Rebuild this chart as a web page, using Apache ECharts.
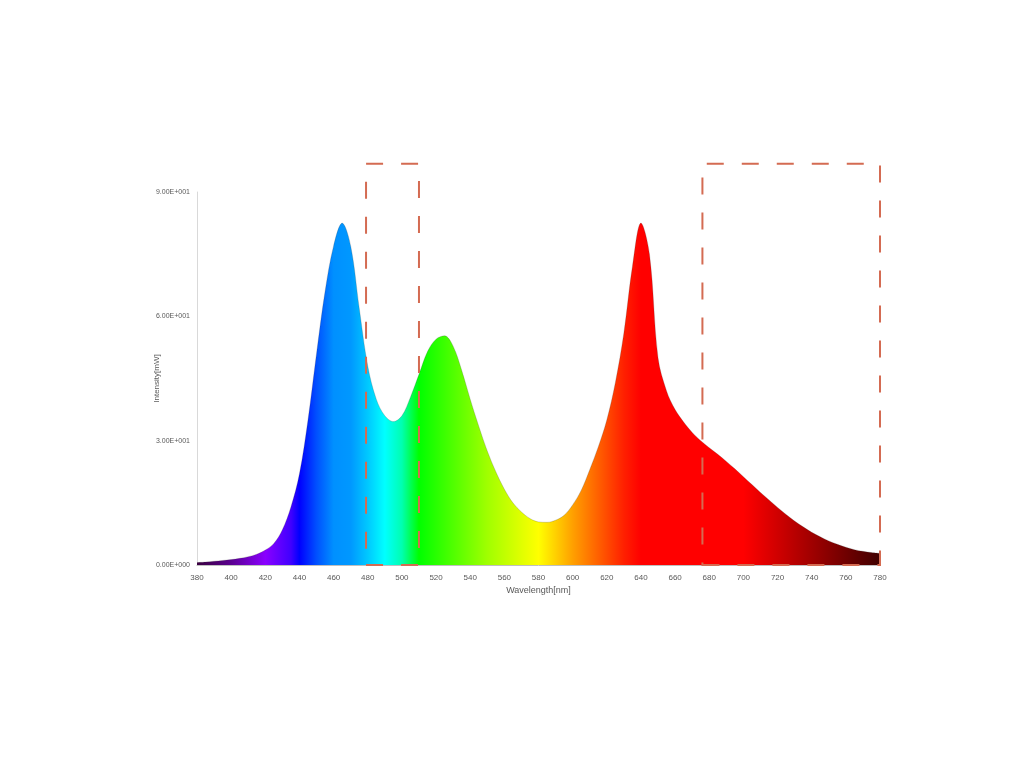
<!DOCTYPE html>
<html>
<head>
<meta charset="utf-8">
<script src="https://cdn.jsdelivr.net/npm/echarts@6/dist/echarts.min.js"></script>
<style>
html,body{margin:0;padding:0;background:#fff;}
#chart{width:1024px;height:768px;}
</style>
</head>
<body>
<div id="chart"></div>
<script>
var wavelengths = [380,385,390,395,400,405,410,415,420,425,430,435,440,445,450,455,460,465,470,475,480,485,490,495,500,505,510,515,520,525,530,535,540,545,550,555,560,565,570,575,580,585,590,595,600,605,610,615,620,625,630,635,640,645,650,655,660,665,670,675,680,685,690,695,700,705,710,715,720,725,730,735,740,745,750,755,760,765,770,775,780];
var intensity = [0.6,0.7,0.9,1.1,1.3,1.6,2.0,2.6,3.6,5.2,8.5,14,22,35,51,66,77,82.5,77,62,48,40,36,34.6,36,40.5,46,51.5,54.5,55.3,52.8,47,40,33.5,27.5,22.5,18.3,15,12.8,11.2,10.4,10.3,10.8,12,14.5,18,23,28.5,35,44,56,72,82.5,75,50,42,37.5,34.5,32,30,28.3,26.7,25.0,23.2,21.3,19.4,17.5,15.7,13.9,12.2,10.6,9.2,7.9,6.8,5.8,5.0,4.3,3.7,3.3,3.0,2.8];
var yTickLabels = ['0.00E+000','3.00E+001','6.00E+001','9.00E+001'];
var boxA = [479, 510];
var boxB = [676, 780];
var boxTop = 96.8;

var xMin = 380, xMax = 780, yMax = 90, yMaxOuter = 100;
var plotTop = 192, plotBottom = 203, plotH = 768 - plotTop - plotBottom;
var outerTop = plotTop - plotH * (yMaxOuter - yMax) / yMax;

var stopsNm = [380,400,420,435,440,450,460,470,480,490,500,510,530,550,570,580,590,600,615,630,640,700,720,740,760,780];
var stopsColor = ['#3a0040','#5a0090','#8a00ff','#4000ff','#0000ff','#0050ff','#0090ff','#0098ff','#00c8ff','#00ffff','#00ffb0','#00ff00','#50ff00','#a0ff00','#e0ff00','#ffff00','#ffd000','#ffa000','#ff6000','#ff2000','#ff0000','#ff0000','#d00000','#a00000','#700000','#400000'];
var colorStops = stopsNm.map(function(n,i){return {offset:(n-xMin)/(xMax-xMin), color:stopsColor[i]};});

var chart = echarts.init(document.getElementById('chart'));
var font = 'Liberation Sans';
chart.setOption({
  backgroundColor:'#fff',
  animation:false,
  grid:[
    {left:197,right:144,top:plotTop,bottom:plotBottom},
    {left:197,right:144,top:outerTop,bottom:plotBottom}
  ],
  xAxis:[{
    type:'value',min:xMin,max:xMax,interval:20,gridIndex:0,
    name:'Wavelength[nm]',nameLocation:'middle',nameGap:21,nameMoveOverlap:false,
    nameTextStyle:{color:'#595959',fontSize:9,fontFamily:font},
    axisLine:{show:true,lineStyle:{color:'#bfbfbf',width:1}},
    axisTick:{show:false},
    splitLine:{show:false},
    axisLabel:{color:'#595959',fontSize:8,fontFamily:font,margin:9}
  },{
    type:'value',min:xMin,max:xMax,gridIndex:1,show:false
  }],
  yAxis:[{
    type:'value',min:0,max:yMax,interval:30,gridIndex:0,
    name:'Intensity[mW]',nameLocation:'middle',nameGap:36,nameMoveOverlap:false,
    nameTextStyle:{color:'#595959',fontSize:8,fontFamily:font},
    axisLine:{show:true,lineStyle:{color:'#d9d9d9',width:1}},
    axisTick:{show:false},
    splitLine:{show:false},
    axisLabel:{color:'#595959',fontSize:7,fontFamily:font,margin:7,
      formatter:function(v){return yTickLabels[Math.round(v/30)];}}
  },{
    type:'value',min:0,max:yMaxOuter,gridIndex:1,show:false
  }],
  series:[{
    type:'line',
    xAxisIndex:0,yAxisIndex:0,z:2,
    data:wavelengths.map(function(w,i){return [w,intensity[i]];}),
    smooth:0.35,
    showSymbol:false,
    lineStyle:{width:0.6,color:'rgba(60,60,60,0.35)'},
    areaStyle:{opacity:1,color:new echarts.graphic.LinearGradient(0,0,1,0,colorStops)}
  },{
    type:'line',
    xAxisIndex:1,yAxisIndex:1,z:10,
    data:[],
    showSymbol:false,
    markArea:{
      silent:true,z:10,
      itemStyle:{color:'rgba(0,0,0,0)',borderColor:'#d46b52',borderWidth:2,borderType:[17,18]},
      data:[
        [{xAxis:boxA[0],yAxis:0},{xAxis:boxA[1],yAxis:boxTop}],
        [{xAxis:boxB[0],yAxis:0},{xAxis:boxB[1],yAxis:boxTop}]
      ]
    }
  }]
});
</script>
</body>
</html>
